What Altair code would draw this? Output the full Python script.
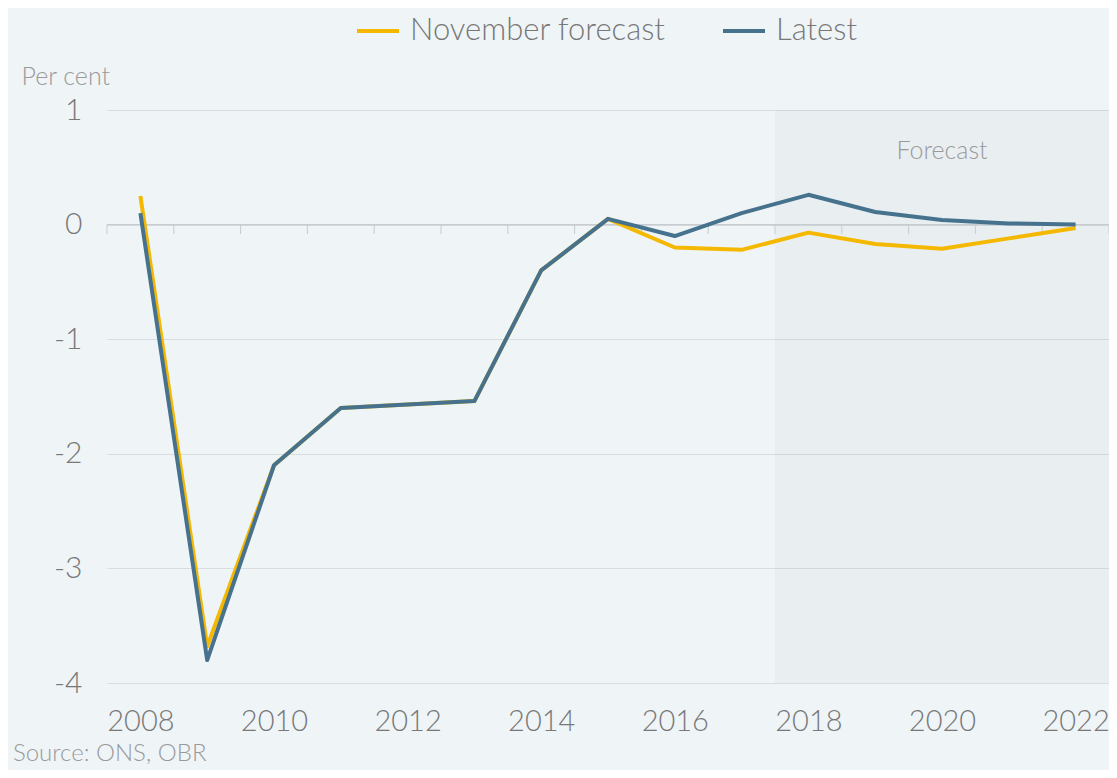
import altair as alt
import pandas as pd

years = list(range(2008, 2023))
november = [0.25, -3.68, -2.1, -1.6, -1.57, -1.54, -0.4, 0.05, -0.2, -0.22, -0.07, -0.17, -0.21, -0.12, -0.03]
latest = [0.1, -3.8, -2.1, -1.6, -1.57, -1.54, -0.4, 0.05, -0.1, 0.1, 0.26, 0.11, 0.04, 0.01, 0.0]
series_names = ["November forecast", "Latest"]
series_colors = ["#F5B800", "#46728E"]
y_ticks = [1, 0, -1, -2, -3, -4]
x_label_years = [2008, 2010, 2012, 2014, 2016, 2018, 2020, 2022]
x_tick_bounds = [y - 0.5 for y in years] + [2022.5]
forecast_start, forecast_end = 2017.5, 2022.5

FONT = "Lato"
LABEL = "#787878"
LIGHT = "#9A9A9A"
AXISLINE = "#C6CCD0"

df = pd.concat([
    pd.DataFrame({"year": years, "value": november, "series": series_names[0]}),
    pd.DataFrame({"year": years, "value": latest, "series": series_names[1]}),
])

xscale = alt.Scale(domain=[2007.5, 2022.5], nice=False, zero=False)
yscale = alt.Scale(domain=[-4, 1], nice=False, zero=False)

X_AXIS = alt.Axis(
    orient="bottom", values=x_label_years, format="d", labelFontSize=29,
    labelColor=LABEL, labelFont=FONT, labelFontWeight=300, labelPadding=24,
    ticks=False, domain=False, grid=False, title=None, labelFlush=False)
Y_AXIS = alt.Axis(
    values=y_ticks, labelFontSize=30, labelColor=LABEL, labelFont=FONT,
    labelFontWeight=300, labelPadding=25, ticks=False, domain=False,
    labelExpr="'' + datum.value",
    grid=True, gridColor="#D8DDE1", gridWidth=1,
    title="Per cent", titleAngle=0, titleAlign="left", titleBaseline="middle",
    titleX=-86, titleY=-34, titleFontSize=25, titleColor=LIGHT,
    titleFont=FONT, titleFontWeight=300)

color = alt.Color(
    "series:N",
    scale=alt.Scale(domain=series_names, range=series_colors),
    sort=series_names,
    legend=alt.Legend(
        title=None, orient="none", direction="horizontal",
        legendX=248, legendY=-102, symbolType="stroke", symbolSize=1764,
        symbolStrokeWidth=4, labelFontSize=31, labelColor=LABEL, labelFont=FONT,
        labelFontWeight=300, labelOffset=9, columnPadding=49, padding=0,
        labelLimit=0,
    ),
)

shade_df = pd.DataFrame({"x": [forecast_start], "x2": [forecast_end], "y": [1], "y2": [-4]})
shade = alt.Chart(shade_df).mark_rect(color="#000000", opacity=0.025).encode(
    x=alt.X("x:Q", scale=xscale, axis=X_AXIS),
    x2="x2:Q",
    y=alt.Y("y:Q", scale=yscale, axis=Y_AXIS),
    y2="y2:Q",
)

zero_df = pd.DataFrame({"x": [2007.5], "x2": [2022.5], "y": [0]})
zero_line = alt.Chart(zero_df).mark_rule(color=AXISLINE, strokeWidth=1.3).encode(
    x=alt.X("x:Q", scale=xscale, axis=X_AXIS),
    x2="x2:Q",
    y=alt.Y("y:Q", scale=yscale, axis=Y_AXIS),
)

ticks_df = pd.DataFrame({"x": x_tick_bounds, "y": [0] * len(x_tick_bounds)})
ticks = alt.Chart(ticks_df).mark_rule(color=AXISLINE, strokeWidth=1).encode(
    x=alt.X("x:Q", scale=xscale, axis=X_AXIS),
    y=alt.Y("y:Q", scale=yscale, axis=Y_AXIS),
    y2=alt.value(124),
)

base = alt.Chart(df).encode(
    x=alt.X("year:Q", scale=xscale, axis=X_AXIS),
    y=alt.Y("value:Q", scale=yscale, axis=Y_AXIS),
    color=color,
)

line_nov = base.transform_filter(alt.datum.series == series_names[0]).mark_line(
    strokeWidth=4, strokeJoin="round")
line_lat = base.transform_filter(alt.datum.series == series_names[1]).mark_line(
    strokeWidth=4, strokeJoin="round")

fc_df = pd.DataFrame({"x": [2020], "y": [0.64], "t": ["Forecast"]})
fc_text = alt.Chart(fc_df).mark_text(
    font=FONT, fontSize=25, fontWeight=300, color=LIGHT, baseline="middle", align="center"
).encode(x=alt.X("x:Q", scale=xscale, axis=X_AXIS),
         y=alt.Y("y:Q", scale=yscale, axis=Y_AXIS), text="t:N")

src_df = pd.DataFrame({"t": ["Source: ONS, OBR"]})
src_text = alt.Chart(src_df).mark_text(
    font=FONT, fontSize=24, fontWeight=300, color=LIGHT, baseline="middle", align="left"
).encode(x=alt.value(-94), y=alt.value(644), text="t:N")

chart = alt.layer(shade, zero_line, ticks, line_nov, line_lat, fc_text, src_text).properties(
    width=1002, height=573,
    autosize=alt.AutoSizeParams(type="none"),
    padding={"left": 99, "top": 102, "right": 0, "bottom": 87},
).configure(background="#EFF4F7").configure_view(stroke=None)

chart.save("out.html", embed_options={"renderer": "svg", "actions": False})
